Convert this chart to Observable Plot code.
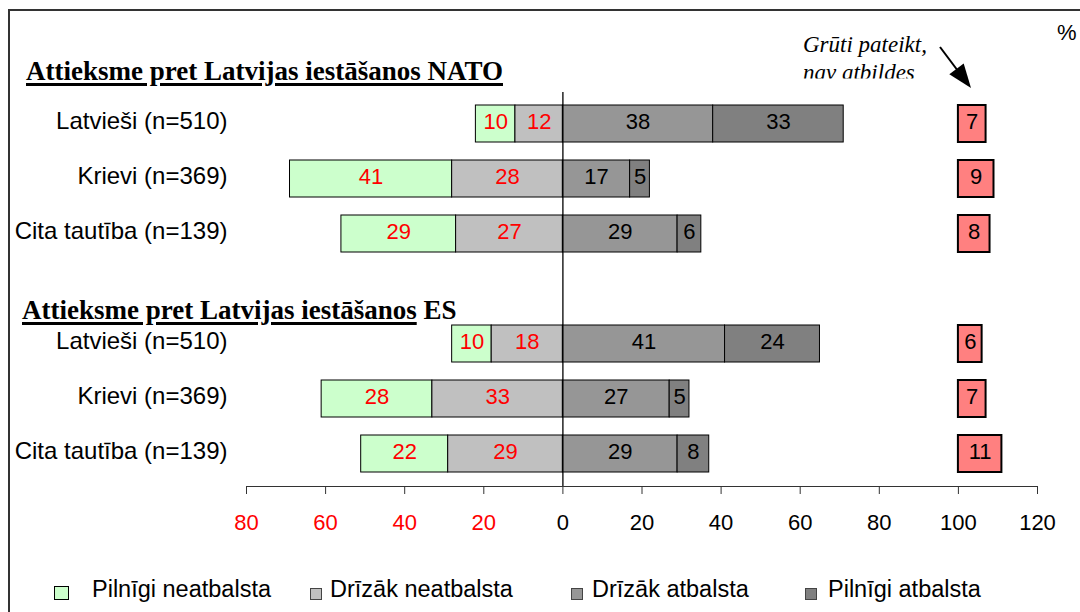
<!DOCTYPE html>
<html><head><meta charset="utf-8">
<script src="https://cdn.jsdelivr.net/npm/d3@7"></script>
<script src="https://cdn.jsdelivr.net/npm/@observablehq/plot@0.6"></script>
<style>
html,body{margin:0;padding:0;background:#fff;}
#wrap{position:relative;width:1080px;height:612px;overflow:hidden;font-family:"Liberation Sans",Arial,sans-serif;}
#chart{position:absolute;left:0;top:0;}
#overlay{position:absolute;left:0;top:0;pointer-events:none;}
.title{position:absolute;font-family:"Liberation Serif","Times New Roman",serif;font-weight:bold;font-size:27px;line-height:27px;white-space:nowrap;color:#000;}
.title .u{text-decoration:underline;text-decoration-thickness:2.5px;text-underline-offset:3px;}
.leg-sw{position:absolute;box-sizing:border-box;}
.leg-tx{position:absolute;font-size:23.5px;line-height:23.5px;white-space:nowrap;color:#000;}
</style></head><body>
<div id="wrap">
  <div id="chart"></div>
  <svg id="overlay" width="1080" height="612"></svg>
  <div id="titles"></div>
  <div id="legend"></div>
</div>
<script>
// ---------- data ----------
const groups = ["NATO", "ES"];
const sectionTitles = ["Attieksme pret Latvijas iestāšanos NATO", "Attieksme pret Latvijas iestāšanos"];
const sectionTitleTail = ["", " ES"];
const ethnicities = ["Latvieši (n=510)", "Krievi (n=369)", "Cita tautība (n=139)"];
const responseLabels = ["Pilnīgi neatbalsta", "Drīzāk neatbalsta", "Drīzāk atbalsta", "Pilnīgi atbalsta"];
const responseColors = ["#CCFFCC", "#C0C0C0", "#969696", "#808080"];
const hardColor = "#FF8080";

const natoFullyOppose  = [10, 41, 29];
const natoRatherOppose = [12, 28, 27];
const natoRatherSupport = [38, 17, 29];
const natoFullySupport = [33, 5, 6];
const natoHardToSay = [7, 9, 8];

const esFullyOppose  = [10, 28, 22];
const esRatherOppose = [18, 33, 29];
const esRatherSupport = [41, 27, 29];
const esFullySupport = [24, 5, 8];
const esHardToSay = [6, 7, 11];

const hardToSayLabel = ["Grūti pateikt,", "nav atbildes"];
const hardToSayStart = 100;
const xTicks = [-80, -60, -40, -20, 0, 20, 40, 60, 80, 100, 120];
const unitLabel = "%";

// ---------- build tables ----------
const seriesByGroup = {
  NATO: [natoFullyOppose, natoRatherOppose, natoRatherSupport, natoFullySupport],
  ES: [esFullyOppose, esRatherOppose, esRatherSupport, esFullySupport]
};
const hardByGroup = {NATO: natoHardToSay, ES: esHardToSay};
const keyOf = (g, e) => g + "|" + e;
const spacer = "spacer";
const yDomain = [...ethnicities.map(e => keyOf("NATO", e)), spacer, ...ethnicities.map(e => keyOf("ES", e))];

const segments = [];
const hardRows = [];
for (const g of groups) {
  const s = seriesByGroup[g];
  ethnicities.forEach((e, i) => {
    const key = keyOf(g, e);
    const fo = s[0][i], ro = s[1][i], rs = s[2][i], fs = s[3][i];
    segments.push({key, r: 0, v: fo, x1: -(fo + ro), x2: -ro});
    segments.push({key, r: 1, v: ro, x1: -ro, x2: 0});
    segments.push({key, r: 2, v: rs, x1: 0, x2: rs});
    segments.push({key, r: 3, v: fs, x1: rs, x2: rs + fs});
    hardRows.push({key, v: hardByGroup[g][i]});
  });
}

// ---------- plot ----------
const chart = Plot.plot({
  width: 1080, height: 560,
  marginTop: 92, marginBottom: 74, marginLeft: 246, marginRight: 43,
  style: {fontFamily: '"Liberation Sans", Arial, sans-serif', fontSize: "22px", background: "transparent", overflow: "visible"},
  x: {domain: [-80, 120], axis: null},
  y: {domain: yDomain, paddingInner: 0.326, paddingOuter: 0.202, axis: null},
  marks: [
    Plot.rectX(segments, {y: "key", x1: "x1", x2: "x2", fill: d => responseColors[d.r], stroke: "#000", strokeWidth: 1}),
    Plot.rectX(hardRows, {y: "key", x1: hardToSayStart, x2: d => hardToSayStart + d.v, fill: hardColor, stroke: "#000", strokeWidth: 2}),
    Plot.ruleX([0], {stroke: "#000", strokeWidth: 1.3}),
    Plot.text(segments.filter(d => d.x2 <= 0), {y: "key", x: d => (d.x1 + d.x2) / 2, text: "v", fill: "#FF0000", fontSize: 22, dy: -2}),
    Plot.text(segments.filter(d => d.x1 >= 0), {y: "key", x: d => (d.x1 + d.x2) / 2, text: "v", fill: "#000", fontSize: 22, dy: -2}),
    Plot.text(hardRows, {y: "key", x: d => hardToSayStart + d.v / 2, text: "v", fill: "#000", fontSize: 22, dy: -2}),
    Plot.frame({anchor: "bottom", stroke: "#333"}),
    Plot.axisX(xTicks, {tickSize: 8, stroke: "#333", tickFormat: () => "", label: null}),
    Plot.axisX(xTicks.filter(t => t < 0), {tickSize: 0, tickPadding: 28, tickFormat: d => Math.abs(d), fill: "#FF0000", fontSize: 22, label: null}),
    Plot.axisX(xTicks.filter(t => t >= 0), {tickSize: 0, tickPadding: 28, tickFormat: d => Math.abs(d), fill: "#000", fontSize: 22, label: null}),
    Plot.axisY(yDomain.filter(k => k !== spacer), {tickSize: 0, tickPadding: 19, tickFormat: k => k.split("|")[1], fontSize: 24, fill: "#000", label: null, dy: -3})
  ]
});
document.getElementById("chart").appendChild(chart);

// ---------- overlay: frame, annotation ----------
const NS = "http://www.w3.org/2000/svg";
const ov = document.getElementById("overlay");
function el(tag, attrs, parent) {
  const n = document.createElementNS(NS, tag);
  for (const k in attrs) n.setAttribute(k, attrs[k]);
  (parent || ov).appendChild(n);
  return n;
}
el("path", {d: "M9,612 V10 H1080", fill: "none", stroke: "#333", "stroke-width": 2});

const defs = el("defs", {});
const cp = el("clipPath", {id: "annClip"}, defs);
el("rect", {x: 780, y: 0, width: 200, height: 78.5}, cp);
const ann = el("g", {"clip-path": "url(#annClip)"});
hardToSayLabel.forEach((t, i) => {
  const tx = el("text", {x: 803, y: 52 + i * 28, "font-family": '"Liberation Serif","Times New Roman",serif', "font-style": "italic", "font-size": 23, fill: "#000"}, ann);
  tx.textContent = t;
});
el("line", {x1: 940, y1: 47, x2: 958, y2: 71, stroke: "#000", "stroke-width": 2});
el("polygon", {points: "949.3,74.3 963.7,63.5 971,88", fill: "#000"});
const pct = el("text", {x: 1057, y: 40, "font-family": '"Liberation Sans",Arial,sans-serif', "font-size": 22, fill: "#000"});
pct.textContent = unitLabel;

// ---------- section titles ----------
const titles = document.getElementById("titles");
const titlePos = [[26, 58], [22, 297]];
sectionTitles.forEach((t, i) => {
  const d = document.createElement("div");
  d.className = "title";
  d.style.left = titlePos[i][0] + "px";
  d.style.top = titlePos[i][1] + "px";
  const u = document.createElement("span");
  u.className = "u";
  u.textContent = t;
  d.appendChild(u);
  if (sectionTitleTail[i]) d.appendChild(document.createTextNode(sectionTitleTail[i]));
  titles.appendChild(d);
});

// ---------- legend ----------
const legend = document.getElementById("legend");
const swPos = [[54, 586, 15, 14], [310, 588, 12, 12], [571, 588, 12, 12], [805, 588, 12, 12]];
const txPos = [92, 330, 592, 828];
responseLabels.forEach((lab, i) => {
  const sw = document.createElement("div");
  sw.className = "leg-sw";
  sw.style.left = swPos[i][0] + "px";
  sw.style.top = swPos[i][1] + "px";
  sw.style.width = swPos[i][2] + "px";
  sw.style.height = swPos[i][3] + "px";
  sw.style.background = responseColors[i];
  sw.style.border = i === 0 ? "1.5px solid #000" : "1px solid #444";
  legend.appendChild(sw);
  const tx = document.createElement("div");
  tx.className = "leg-tx";
  tx.style.left = txPos[i] + "px";
  tx.style.top = "578px";
  tx.textContent = lab;
  legend.appendChild(tx);
});
</script>
</body></html>
